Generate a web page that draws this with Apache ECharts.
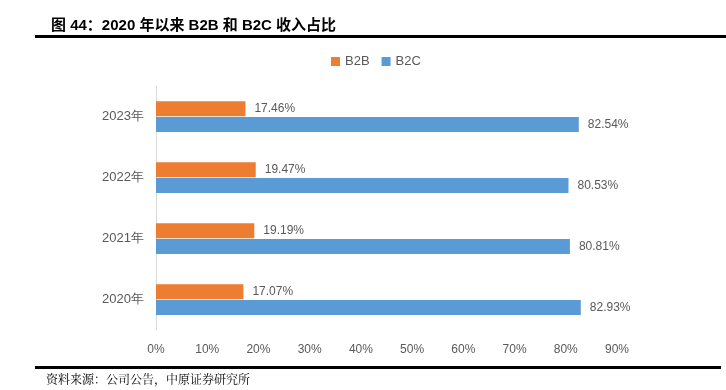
<!DOCTYPE html>
<html><head><meta charset="utf-8">
<script src="https://cdn.jsdelivr.net/npm/echarts@6/dist/echarts.min.js"></script>
<style>html,body{margin:0;padding:0;background:#fff}#c{width:726px;height:390px}</style>
</head><body><div id="c"></div>
<script>
var categories = ['2020年', '2021年', '2022年', '2023年'];
var b2b = [17.07, 19.19, 19.47, 17.46];
var b2c = [82.93, 80.81, 80.53, 82.54];
var xTicks = [0, 10, 20, 30, 40, 50, 60, 70, 80, 90];

var chart = echarts.init(document.getElementById('c'));
var lbl = {show: true, position: 'right', distance: 9, color: '#595959', fontSize: 12,
  fontFamily: '"Liberation Sans", sans-serif',
  formatter: function (p) { return p.value.toFixed(2) + '%'; }};
chart.setOption({
  animation: false,
  title: {text: '图 44：2020 年以来 B2B 和 B2C 收入占比', left: 46, top: 13,
    textStyle: {fontSize: 15, fontWeight: 'bold', color: '#000', fontFamily: '"Liberation Sans", "Noto Sans CJK SC", sans-serif'}},
  legend: {data: ['B2B', 'B2C'], top: 50, left: 326, itemWidth: 9, itemHeight: 9, itemGap: 12,
    icon: 'rect', textStyle: {color: '#595959', fontSize: 13, fontFamily: '"Liberation Sans", sans-serif'}},
  grid: {left: 156, right: 109, top: 86, bottom: 60},
  xAxis: {type: 'value', min: 0, max: 90, interval: 10,
    axisLine: {show: false}, axisTick: {show: false}, splitLine: {show: false},
    axisLabel: {color: '#595959', fontSize: 12, margin: 14,
      formatter: function (v) { return xTicks.indexOf(v) >= 0 ? v + '%' : ''; }}},
  yAxis: {type: 'category', data: categories,
    axisLine: {show: true, lineStyle: {color: '#d9d9d9', width: 1}}, axisTick: {show: false},
    axisLabel: {color: '#595959', fontSize: 13, margin: 12}},
  series: [
    {name: 'B2B', type: 'bar', data: b2b, barWidth: 15, barGap: '5%', itemStyle: {color: '#ED7D31'}, label: lbl},
    {name: 'B2C', type: 'bar', data: b2c, barWidth: 15, barGap: '5%', itemStyle: {color: '#5B9BD5'}, label: lbl}
  ],
  graphic: [
    {type: 'rect', shape: {x: 35, y: 35, width: 691, height: 3}, style: {fill: '#000'}},
    {type: 'rect', shape: {x: 35, y: 366, width: 686, height: 3}, style: {fill: '#000'}},
    {type: 'text', left: 46, top: 373, style: {text: '资料来源：公司公告，中原证券研究所', fontSize: 12, fill: '#000',
      fontFamily: '"Noto Serif CJK SC", "Noto Sans CJK SC", serif'}}
  ]
});
</script></body></html>
